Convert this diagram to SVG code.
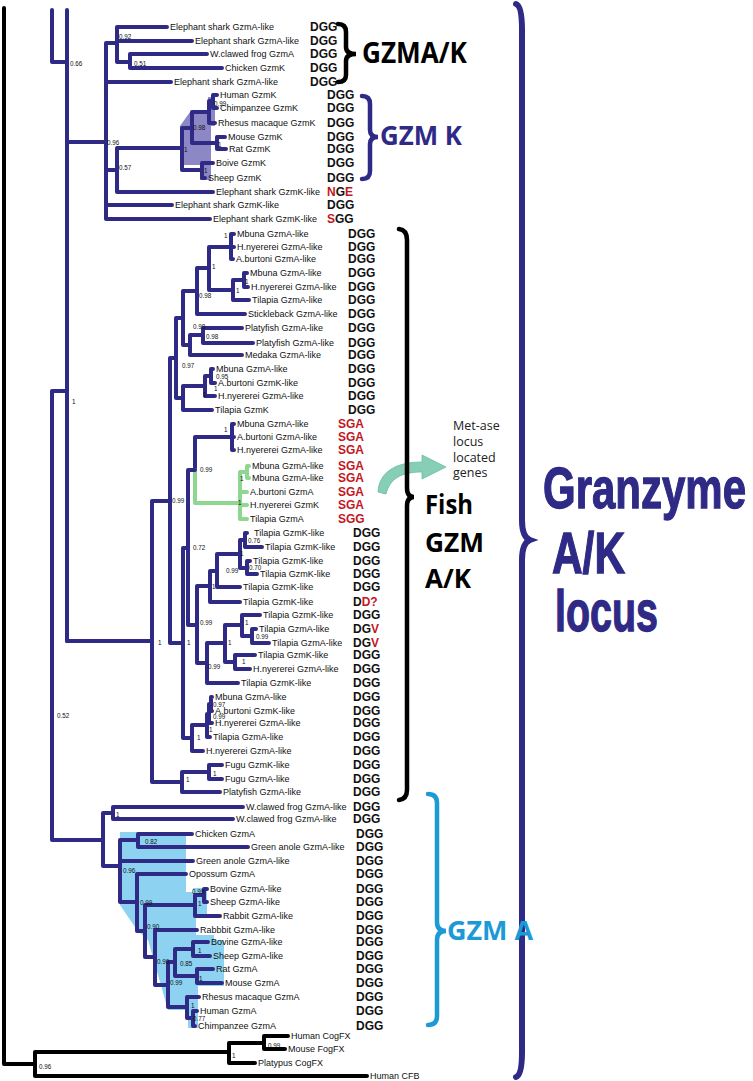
<svg xmlns="http://www.w3.org/2000/svg" width="753" height="1081" viewBox="0 0 753 1081">
<style>
.b{fill:none;stroke:#2e2a85;stroke-width:4;stroke-linecap:round;stroke-linejoin:round}
.k{fill:none;stroke:#000;stroke-width:4;stroke-linecap:round;stroke-linejoin:round}
.g{fill:none;stroke:#8fd68f;stroke-width:4;stroke-linecap:round;stroke-linejoin:round}
.l{font-family:"Liberation Sans",Arial,sans-serif;font-size:9px;fill:#111}
.s{font-family:"Liberation Sans",Arial,sans-serif;font-size:6.3px;fill:#111}
.c{font-family:"Liberation Sans",Arial,sans-serif;font-size:12px;font-weight:bold;fill:#111}
.r{fill:#c4161c}
.big{font-family:"Open Sans","Liberation Sans",sans-serif;font-weight:bold}
.gr{font-family:"Liberation Sans",Arial,sans-serif;font-weight:bold;font-size:58px;fill:#2e2a85;stroke:#2e2a85;stroke-width:1.3}
.met{font-family:"Open Sans","Liberation Sans",sans-serif;font-size:12.5px;fill:#222}
</style>
<rect width="753" height="1081" fill="#fff"/>
<path d="M180,126 L190,112 H208 V97 H215 V126 H211 V180 H200 V165 H181 Z" fill="#8d87c6"/>
<path d="M120,832 H186 V892 H193 V888 H207 V917 H196 V935 H214 V940 H224 V986 H198 V1028 H188 V1010 L168,1010 L148,940 L137,930 L120,905 Z" fill="#8dd3f1"/>
<g id="connectors">
<path class="b" d="M52,10V62H67 M67,10V641 M67,142H106 M106,43V219 M106,43H117 M117,27V62 M117,27H167 M117,41H192 M117,62H130 M130,54V68 M130,54H207 M130,68H222 M106,82H171 M106,170H117 M117,148V192 M117,148H182 M117,192H213 M182,128V170 M182,128H192 M192,112V143 M192,112H209 M209,101V123 M209,101H213 M213,95V108 M213,95H217 M213,108H217 M209,123H215 M192,143H217 M217,137V149 M217,137H225 M217,149H226 M182,170H202 M202,163V178 M202,163H213 M202,178H205 M106,205H172 M106,219H210"/>
<path class="b" d="M231,234V259 M231,234H234 M231,247H234 M231,259H233 M244,273V287 M244,273H247 M244,287H248 M233,280V300 M233,280H244 M233,300H249 M209,247V290 M209,247H231 M209,290H233 M197,268V314 M197,268H209 M197,314H245 M203,328V343 M203,328H242 M203,343H253 M190,335V355 M190,335H203 M190,355H242 M183,291V345 M183,291H197 M183,345H190 M211,369V383 M211,369H213 M211,383H215 M205,376V396 M205,376H211 M205,396H215 M183,386V410 M183,386H205 M183,410H212 M176,318V398 M176,318H183 M176,398H183 M232,424V450 M232,424H234 M232,437H234 M232,450H234 M195,437V470 M195,437H232"/>
<path class="g" d="M195,470V503H240 M240,472V519 M240,472H247 M247,466V478 M247,466H249 M247,478H249 M240,492H247 M240,505H247 M240,519H247"/>
<path class="b" d="M245,533V547 M245,533H247 M245,547H262 M247,561V574 M247,561H250 M247,574H257 M240,540V568 M240,540H245 M240,568H247 M217,554V587 M217,554H240 M217,587H240 M210,571V602 M210,571H217 M210,602H240 M252,629V643 M252,629H256 M252,643H269 M242,615V636 M242,615H260 M242,636H252 M235,655V669 M235,655H255 M235,669H250 M225,625V662 M225,625H242 M225,662H235 M207,643V683 M207,643H225 M207,683H238 M197,586V663 M197,586H210 M197,663H207 M188,470V625 M188,470H195 M188,625H197 M211,697V711 M211,697H212 M211,711H212 M209,704V723 M209,704H211 M209,723H212 M207,714V737 M207,714H209 M207,737H210 M192,725V751 M192,725H207 M192,751H203 M183,548V738 M183,548H188 M183,738H192 M170,358V643 M170,358H176 M170,643H183 M209,765V779 M209,765H222 M209,779H222 M182,772V792 M182,772H209 M182,792H220 M152,501V782 M152,501H170 M152,782H182 M67,641H152"/>
<path class="b" d="M52,391H67 M52,391V840H103 M103,813V866 M103,813H113 M113,807V819 M113,807H243 M113,819H233 M103,866H120 M120,840V902 M120,840H138 M138,834V847 M138,834H192 M138,847H248 M120,861H193 M120,902H137 M137,874V931 M137,874H186 M137,931H145 M145,905V957 M145,905H195 M195,895V916 M195,895H204 M204,889V902 M204,889H207 M204,902H207 M195,916H220 M145,957H155 M155,930V985 M155,930H197 M155,985H168 M168,962V1007 M168,962H175 M175,949V976 M175,949H193 M193,942V956 M193,942H208 M193,956H210 M175,976H197 M197,969V983 M197,969H213 M197,983H222 M168,1007H187 M187,997V1018 M187,997H199 M187,1018H193 M193,1011V1026 M193,1011H197 M193,1026H195"/>
<path class="k" d="M4,8V1064H35 M35,1052V1076 M35,1052H229 M35,1076H367 M229,1043V1063 M229,1043H264 M229,1063H255 M264,1036V1049 M264,1036H288 M264,1049H285"/>
</g>
<g id="support">
<text class="s" x="70" y="66">0.66</text><text class="s" x="119" y="39">0.92</text><text class="s" x="134" y="66">0.51</text>
<text class="s" x="214" y="106">0.99</text><text class="s" x="193" y="130">0.98</text><text class="s" x="218" y="147">1</text>
<text class="s" x="184" y="152">1</text><text class="s" x="107" y="145">0.96</text><text class="s" x="119" y="170">0.57</text><text class="s" x="204" y="173">1</text>
<text class="s" x="224" y="238">1</text><text class="s" x="245" y="284">1</text><text class="s" x="236" y="293">1</text><text class="s" x="212" y="269">1</text>
<text class="s" x="199" y="298">0.98</text><text class="s" x="193" y="329">0.98</text><text class="s" x="206" y="339">0.98</text><text class="s" x="182" y="368">0.97</text>
<text class="s" x="216" y="379">0.95</text><text class="s" x="214" y="391">1</text><text class="s" x="203" y="397">1</text><text class="s" x="224" y="432">1</text>
<text class="s" x="200" y="472">0.99</text><text class="s" x="240" y="481">1</text><text class="s" x="238" y="505">1</text><text class="s" x="172" y="503">0.99</text>
<text class="s" x="248" y="543">0.76</text><text class="s" x="193" y="550">0.72</text><text class="s" x="240" y="556">1</text><text class="s" x="249" y="570">0.70</text>
<text class="s" x="226" y="573">0.99</text><text class="s" x="212" y="589">1</text><text class="s" x="200" y="625">0.99</text><text class="s" x="245" y="625">1</text>
<text class="s" x="256" y="639">0.99</text><text class="s" x="158" y="645">1</text><text class="s" x="187" y="645">1</text><text class="s" x="228" y="645">1</text>
<text class="s" x="242" y="664">1</text><text class="s" x="208" y="669">0.99</text><text class="s" x="213" y="707">0.97</text><text class="s" x="213" y="719">0.99</text>
<text class="s" x="209" y="732">1</text><text class="s" x="197" y="740">1</text><text class="s" x="213" y="776">1</text><text class="s" x="186" y="782">1</text>
<text class="s" x="116" y="817">1</text><text class="s" x="145" y="844">0.82</text><text class="s" x="123" y="873">0.96</text><text class="s" x="192" y="894">0.99</text>
<text class="s" x="198" y="906">1</text><text class="s" x="140" y="905">0.99</text><text class="s" x="147" y="929">0.90</text><text class="s" x="198" y="953">1</text>
<text class="s" x="157" y="964">0.99</text><text class="s" x="180" y="966">0.85</text><text class="s" x="199" y="981">1</text><text class="s" x="170" y="985">0.99</text>
<text class="s" x="191" y="1008">1</text><text class="s" x="193" y="1021">0.77</text>
<text class="s" x="232" y="1058">1</text><text class="s" x="268" y="1048">0.99</text><text class="s" x="39" y="1069">0.96</text>
<text class="s" x="72" y="404">1</text><text class="s" x="57" y="718">0.52</text>
</g>
<g id="leaves" class="l">
<text x="170" y="30">Elephant shark GzmA-like</text>
<text x="195" y="44">Elephant shark GzmA-like</text>
<text x="210" y="57">W.clawed frog GzmA</text>
<text x="225" y="71">Chicken GzmK</text>
<text x="174" y="85">Elephant shark GzmA-like</text>
<text x="220" y="98">Human GzmK</text>
<text x="220" y="111">Chimpanzee GzmK</text>
<text x="218" y="126">Rhesus macaque GzmK</text>
<text x="228" y="140">Mouse GzmK</text>
<text x="229" y="152">Rat GzmK</text>
<text x="216" y="166">Boive GzmK</text>
<text x="208" y="181">Sheep GzmK</text>
<text x="216" y="195">Elephant shark GzmK-like</text>
<text x="175" y="208">Elephant shark GzmK-like</text>
<text x="213" y="222">Elephant shark GzmK-like</text>
<text x="237" y="237">Mbuna GzmA-like</text>
<text x="237" y="250">H.nyererei GzmA-like</text>
<text x="236" y="262">A.burtoni GzmA-like</text>
<text x="250" y="276">Mbuna GzmA-like</text>
<text x="251" y="290">H.nyererei GzmA-like</text>
<text x="252" y="303">Tilapia GzmA-like</text>
<text x="248" y="317">Stickleback GzmA-like</text>
<text x="245" y="331">Platyfish GzmA-like</text>
<text x="256" y="346">Platyfish GzmA-like</text>
<text x="245" y="358">Medaka GzmA-like</text>
<text x="216" y="372">Mbuna GzmA-like</text>
<text x="218" y="386">A.burtoni GzmK-like</text>
<text x="218" y="399">H.nyererei GzmA-like</text>
<text x="215" y="413">Tilapia GzmK</text>
<text x="237" y="427">Mbuna GzmA-like</text>
<text x="237" y="440">A.burtoni GzmA-like</text>
<text x="237" y="453">H.nyererei GzmA-like</text>
<text x="252" y="469">Mbuna GzmA-like</text>
<text x="252" y="481">Mbuna GzmA-like</text>
<text x="250" y="495">A.burtoni GzmA</text>
<text x="250" y="508">H.nyererei GzmK</text>
<text x="250" y="522">Tilapia GzmA</text>
<text x="254" y="536">Tilapia GzmK-like</text>
<text x="265" y="550">Tilapia GzmK-like</text>
<text x="253" y="564">Tilapia GzmK-like</text>
<text x="260" y="577">Tilapia GzmK-like</text>
<text x="243" y="590">Tilapia GzmK-like</text>
<text x="243" y="605">Tilapia GzmK-like</text>
<text x="263" y="618">Tilapia GzmK-like</text>
<text x="259" y="632">Tilapia GzmA-like</text>
<text x="272" y="646">Tilapia GzmA-like</text>
<text x="258" y="658">Tilapia GzmK-like</text>
<text x="253" y="672">H.nyererei GzmA-like</text>
<text x="241" y="686">Tilapia GzmK-like</text>
<text x="215" y="700">Mbuna GzmA-like</text>
<text x="215" y="714">A.burtoni GzmK-like</text>
<text x="215" y="726">H.nyererei GzmA-like</text>
<text x="213" y="740">Tilapia GzmA-like</text>
<text x="206" y="754">H.nyererei GzmA-like</text>
<text x="225" y="768">Fugu GzmK-like</text>
<text x="225" y="782">Fugu GzmA-like</text>
<text x="223" y="795">Platyfish GzmA-like</text>
<text x="246" y="810">W.clawed frog GzmA-like</text>
<text x="236" y="822">W.clawed frog GzmA-like</text>
<text x="195" y="837">Chicken GzmA</text>
<text x="251" y="850">Green anole GzmA-like</text>
<text x="196" y="864">Green anole GzmA-like</text>
<text x="189" y="877">Opossum GzmA</text>
<text x="210" y="892">Bovine GzmA-like</text>
<text x="210" y="905">Sheep GzmA-like</text>
<text x="223" y="919">Rabbit GzmA-like</text>
<text x="200" y="933">Rabbbit GzmA-like</text>
<text x="211" y="945">Bovine GzmA-like</text>
<text x="213" y="959">Sheep GzmA-like</text>
<text x="216" y="972">Rat GzmA</text>
<text x="225" y="986">Mouse GzmA</text>
<text x="202" y="1000">Rhesus macaque GzmA</text>
<text x="200" y="1014">Human GzmA</text>
<text x="198" y="1029">Chimpanzee GzmA</text>
<text x="291" y="1039">Human CogFX</text>
<text x="288" y="1052">Mouse FogFX</text>
<text x="258" y="1066">Platypus CogFX</text>
<text x="370" y="1079">Human CFB</text>
</g>
<g id="motifs" class="c">
<text x="310" y="31">DGG</text><text x="310" y="45">DGG</text><text x="310" y="58">DGG</text><text x="310" y="72">DGG</text><text x="310" y="86">DGG</text>
<text x="327" y="99">DGG</text><text x="327" y="112">DGG</text><text x="327" y="127">DGG</text><text x="327" y="141">DGG</text><text x="327" y="153">DGG</text><text x="327" y="167">DGG</text><text x="327" y="182">DGG</text>
<text x="327" y="196"><tspan class="r">N</tspan>G<tspan class="r">E</tspan></text>
<text x="327" y="209">DGG</text>
<text x="327" y="223"><tspan class="r">S</tspan>GG</text>
<text x="348" y="238">DGG</text><text x="348" y="251">DGG</text><text x="348" y="263">DGG</text><text x="348" y="277">DGG</text><text x="348" y="291">DGG</text><text x="348" y="304">DGG</text><text x="348" y="318">DGG</text><text x="348" y="332">DGG</text><text x="348" y="347">DGG</text><text x="348" y="359">DGG</text><text x="348" y="373">DGG</text><text x="348" y="387">DGG</text><text x="348" y="400">DGG</text><text x="348" y="414">DGG</text>
<text class="r" x="338" y="428">SGA</text><text class="r" x="338" y="441">SGA</text><text class="r" x="338" y="454">SGA</text><text class="r" x="338" y="470">SGA</text><text class="r" x="338" y="482">SGA</text><text class="r" x="338" y="496">SGA</text><text class="r" x="338" y="509">SGA</text><text class="r" x="338" y="523">SGG</text>
<text x="353" y="537">DGG</text><text x="353" y="551">DGG</text><text x="353" y="565">DGG</text><text x="353" y="578">DGG</text><text x="353" y="591">DGG</text>
<text x="353" y="606">D<tspan class="r">D?</tspan></text>
<text x="353" y="619">DGG</text>
<text x="353" y="633">DG<tspan class="r">V</tspan></text>
<text x="353" y="647">DG<tspan class="r">V</tspan></text>
<text x="353" y="659">DGG</text><text x="353" y="673">DGG</text><text x="353" y="687">DGG</text><text x="353" y="701">DGG</text><text x="353" y="715">DGG</text><text x="353" y="727">DGG</text><text x="353" y="741">DGG</text><text x="353" y="755">DGG</text><text x="353" y="769">DGG</text><text x="353" y="783">DGG</text><text x="353" y="796">DGG</text><text x="353" y="811">DGG</text><text x="353" y="823">DGG</text>
<text x="356" y="838">DGG</text><text x="356" y="851">DGG</text><text x="356" y="865">DGG</text><text x="356" y="878">DGG</text><text x="356" y="893">DGG</text><text x="356" y="906">DGG</text><text x="356" y="920">DGG</text><text x="356" y="934">DGG</text><text x="356" y="946">DGG</text><text x="356" y="960">DGG</text><text x="356" y="973">DGG</text><text x="356" y="987">DGG</text><text x="356" y="1001">DGG</text><text x="356" y="1015">DGG</text><text x="356" y="1030">DGG</text>
</g>
<g id="arrow">
<path d="M378,492 C379,474 393,462 422,462 L422,455 L446,467 L422,479 L422,472 C402,472 390,478 386,494 Z" fill="#86cfb6" stroke="#6bbba0" stroke-width="0.8"/>
</g>
<g id="braces" fill="none" stroke-linecap="round">
<path d="M338,24 Q346,24 346,32 V47 Q346,54 356,54 Q346,54 346,61 V75 Q346,82 338,82" stroke="#000" stroke-width="4.5"/>
<path d="M362,96 Q370,96 370,104 V130 Q370,137 378,137 Q370,137 370,144 V171 Q370,179 362,179" stroke="#2e2a85" stroke-width="4.5"/>
<path d="M399,229 Q407,230 407,240 V488 Q407,497 414,497 Q407,497 407,506 V790 Q407,799 399,800" stroke="#000" stroke-width="4.5"/>
<path d="M428,794 Q437,794 437,803 V922 Q437,931 446,931 Q437,931 437,940 V1016 Q437,1025 428,1025" stroke="#1b9ad6" stroke-width="4.5"/>
<path d="M516,4 Q522,6 522,30 V520 Q522,537 530,540 Q522,543 522,560 V1052 Q522,1075 516,1077" stroke="#2e2a85" stroke-width="6"/>
</g>
<g id="labels">
<text class="big" x="362" y="63" font-size="28" fill="#000" textLength="105" lengthAdjust="spacingAndGlyphs">GZMA/K</text>
<text class="big" x="380" y="145" font-size="26" fill="#2e2a85" textLength="82" lengthAdjust="spacingAndGlyphs">GZM K</text>
<text class="met" x="453" y="430">Met-ase</text>
<text class="met" x="453" y="446">locus</text>
<text class="met" x="453" y="462">located</text>
<text class="met" x="453" y="477">genes</text>
<text class="big" x="425" y="514" font-size="26" fill="#000" textLength="48" lengthAdjust="spacingAndGlyphs">Fish</text>
<text class="big" x="425" y="552" font-size="26" fill="#000" textLength="59" lengthAdjust="spacingAndGlyphs">GZM</text>
<text class="big" x="425" y="588" font-size="26" fill="#000" textLength="46" lengthAdjust="spacingAndGlyphs">A/K</text>
<text class="big" x="447" y="940" font-size="26" fill="#1b9ad6" textLength="86" lengthAdjust="spacingAndGlyphs">GZM A</text>
<text class="gr" x="543" y="508" textLength="203" lengthAdjust="spacingAndGlyphs">Granzyme</text>
<text class="gr" x="552" y="573" textLength="73" lengthAdjust="spacingAndGlyphs">A/K</text>
<text class="gr" x="555" y="631" textLength="103" lengthAdjust="spacingAndGlyphs">locus</text>
</g>
</svg>
